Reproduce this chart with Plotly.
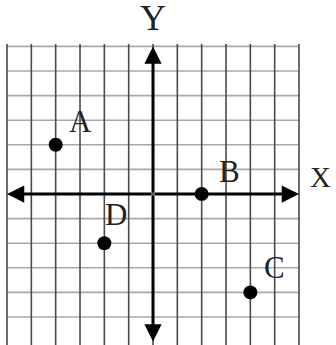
import plotly.graph_objects as go

# data
point_names = ["A", "B", "C", "D"]
point_x = [-4, 2, 4, -2]
point_y = [2, 0, -4, -2]
grid_ticks = list(range(-6, 7))
axis_titles = ["X", "Y"]

# label offsets (pixels) for point names
label_dx = [25, 28, 24, 12]
label_dy = [21, 21, 23, 27]

fig = go.Figure()

shapes = []
# horizontal grid lines (light gray)
for k in grid_ticks:
    if k == -6:
        continue
    shapes.append(dict(type="line", xref="x", yref="y", x0=-6, x1=6, y0=k, y1=k,
                       line=dict(color="#a8a8a8", width=1.6), layer="below"))
# vertical grid lines (darker)
for k in grid_ticks:
    shapes.append(dict(type="line", xref="x", yref="y", x0=k, x1=k, y0=-6.3, y1=6.1,
                       line=dict(color="#4a4a4a", width=1.6), layer="below"))

annotations = []
# axes with arrowheads at both ends
for (x0, y0, x1, y1) in [(-6, 0, 6, 0), (6, 0, -6, 0), (0, -6, 0, 6), (0, 6, 0, -6)]:
    annotations.append(dict(x=x1, y=y1, ax=(x0 + x1) / 2, ay=(y0 + y1) / 2,
                            xref="x", yref="y", axref="x", ayref="y",
                            showarrow=True, arrowhead=2, arrowsize=1.15, arrowwidth=3,
                            arrowcolor="black", text=""))

fig.add_trace(go.Scatter(x=point_x, y=point_y, mode="markers",
                         marker=dict(size=14, color="black"), hoverinfo="skip",
                         showlegend=False))

font = "Liberation Serif"
for name, x, y, dx, dy in zip(point_names, point_x, point_y, label_dx, label_dy):
    annotations.append(dict(x=x, y=y, xref="x", yref="y", text=name, showarrow=False,
                            xshift=dx, yshift=dy + 2,
                            font=dict(family=font, size=31, color="#222")))

annotations.append(dict(x=6.9, y=0.61, xref="x", yref="y", text=axis_titles[0], showarrow=False,
                        yshift=2, font=dict(family=font, size=29, color="#222")))
annotations.append(dict(x=0, y=7.07, xref="x", yref="y", text=axis_titles[1], showarrow=False,
                        yshift=2, font=dict(family=font, size=36, color="#222")))

fig.update_layout(
    width=336, height=345,
    margin=dict(l=0, r=0, t=0, b=0),
    paper_bgcolor="white", plot_bgcolor="white",
    xaxis=dict(range=[-6.288, 7.52], visible=False, fixedrange=True),
    yaxis=dict(range=[-6.138, 7.886], visible=False, fixedrange=True),
    shapes=shapes, annotations=annotations, showlegend=False,
)

fig.write_html("out.html", config={"displayModeBar": False},
               post_script="document.body.style.margin='0';document.body.style.overflow='hidden';")
